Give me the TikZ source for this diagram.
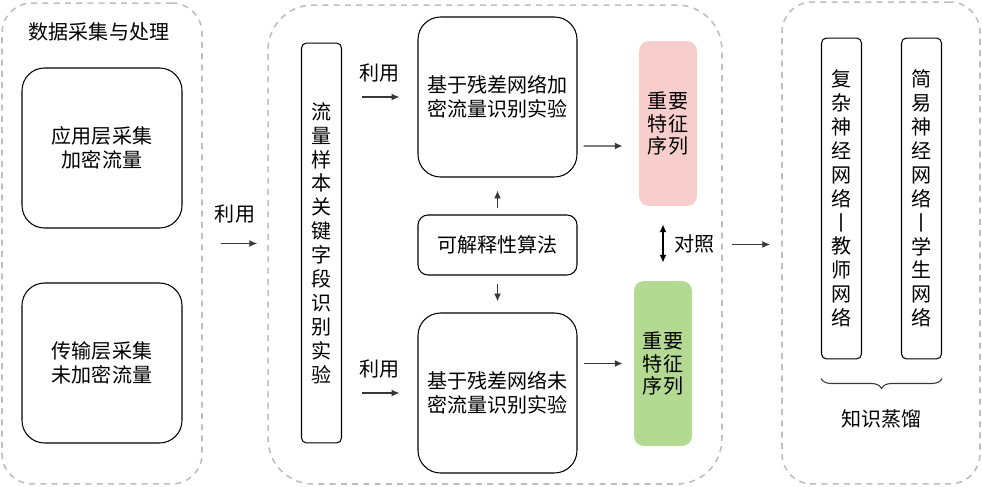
\documentclass[tikz,border=0pt]{standalone}
\usepackage{fontspec}
\setmainfont{Noto Sans CJK SC}
\usepackage{tikz}
\usetikzlibrary{arrows.meta, positioning, calc, decorations.pathreplacing}
\definecolor{groupGray}{RGB}{190, 190, 190}
\definecolor{keyPink}{RGB}{248, 206, 204}
\definecolor{keyGreen}{RGB}{179, 217, 146}
\definecolor{lineDark}{RGB}{55, 55, 55}

\begin{document}
\begin{tikzpicture}[x=0.02cm, y=-0.02cm,
        font=\fontsize{11.4}{13.6}\selectfont,
        group/.style={draw=groupGray, dash pattern=on 3.4pt off 3pt, line width=0.9pt},
        stagebox/.style={draw, rounded corners=0.45cm, minimum width=3.18cm, minimum height=3.2cm, align=center, line width=0.6pt},
        tallbox/.style={draw, rounded corners=0.1cm, minimum width=0.8cm, align=center, line width=0.6pt},
        featbox/.style={rounded corners=0.2cm, minimum width=1.16cm, minimum height=3.3cm, align=center, font=\fontsize{11.4}{12.8}\selectfont},
        flow/.style={-{Latex[length=4.5pt, width=4pt]}, line width=0.8pt, lineDark}]
    \useasboundingbox (0,0) rectangle (982,486);

    % Dashed groups
    \node[group, rounded corners=0.6cm, minimum width=4cm, minimum height=9.62cm] (grpA) at (102,243.5) {};
    \node[group, rounded corners=0.9cm, minimum width=9.08cm, minimum height=9.58cm] (grpB) at (495,244.5) {};
    \node[group, rounded corners=0.6cm, minimum width=3.96cm, minimum height=9.64cm] (grpC) at (881,243) {};

    % Data collection
    \node (title) at (99,32) {数据采集与处理};
    \node[stagebox, minimum width=3.2cm] (appbox) at (102,148) {应用层采集\\加密流量};
    \node[stagebox, minimum width=3.2cm] (tranbox) at (102,363) {传输层采集\\未加密流量};

    % Experiments
    \node[tallbox, minimum height=8cm] (keyfield) at (321.5,243)
        {流\\量\\样\\本\\关\\键\\字\\段\\识\\别\\实\\验};
    \node[stagebox] (topexp) at (497.5,97) {基于残差网络加\\密流量识别实验};
    \node[stagebox, rounded corners=0.2cm, minimum height=1.2cm] (xai) at (497.5,245) {可解释性算法};
    \node[stagebox] (botexp) at (497.5,393) {基于残差网络未\\密流量识别实验};
    \node[featbox, fill=keyPink] (pinkfeat) at (668,123.5) {重要\\特征\\序列};
    \node[featbox, fill=keyGreen] (greenfeat) at (663,363.5) {重要\\特征\\序列};

    % Distillation
    \node[tallbox, minimum height=6.42cm] (teacher) at (841.5,198.5)
        {复\\杂\\神\\经\\网\\络\\丨\\教\\师\\网\\络};
    \node[tallbox, minimum height=6.42cm] (student) at (921.5,198.5)
        {简\\易\\神\\经\\网\\络\\丨\\学\\生\\网\\络};
    \coordinate (braceL) at ($(teacher.south west)+(0,19)$);
    \coordinate (braceR) at ($(student.south east)+(0,19)$);
    \draw[decorate, decoration={brace, mirror, amplitude=0.2cm}, line width=0.6pt, lineDark] (braceL) -- (braceR)
        node[midway, below=0.5cm, black] (distill) {知识蒸馏};

    % Connectors
    \draw[flow, shorten <=0.36cm, shorten >=0.2cm] (grpA.east) -- (grpA.east -| grpB.west)
        node[midway, above=0.27cm, black] {利用};
    \draw[flow, shorten <=0.4cm, shorten >=0.36cm] (keyfield.east |- topexp.west) -- (topexp.west)
        node[midway, above=0.17cm, black] {利用};
    \draw[flow, shorten <=0.4cm, shorten >=0.36cm] (keyfield.east |- botexp.west) -- (botexp.west)
        node[midway, above=0.17cm, black] {利用};
    \draw[flow, shorten <=0.12cm, shorten >=0.26cm] (xai.north) -- (xai.north |- topexp.south);
    \draw[flow, shorten <=0.16cm, shorten >=0.22cm] (xai.south) -- (xai.south |- botexp.north);
    \draw[flow, shorten <=0.12cm, shorten >=0.32cm] ($(topexp.east)+(0,49)$) -- ($(pinkfeat.west)+(0,22.5)$);
    \draw[flow, shorten <=0.12cm, shorten >=0.22cm] (botexp.east |- greenfeat.west) -- (greenfeat.west);
    \draw[flow, {Latex[length=4.5pt, width=4pt]}-{Latex[length=4.5pt, width=4pt]}, black, shorten <=0.36cm, shorten >=0.36cm]
        (greenfeat.north |- pinkfeat.south) -- (greenfeat.north)
        node[midway, right=0.1cm] {对照};
    \draw[flow, shorten <=0.18cm, shorten >=0.22cm] (grpB.east) -- (grpB.east -| grpC.west);
\end{tikzpicture}
\end{document}
